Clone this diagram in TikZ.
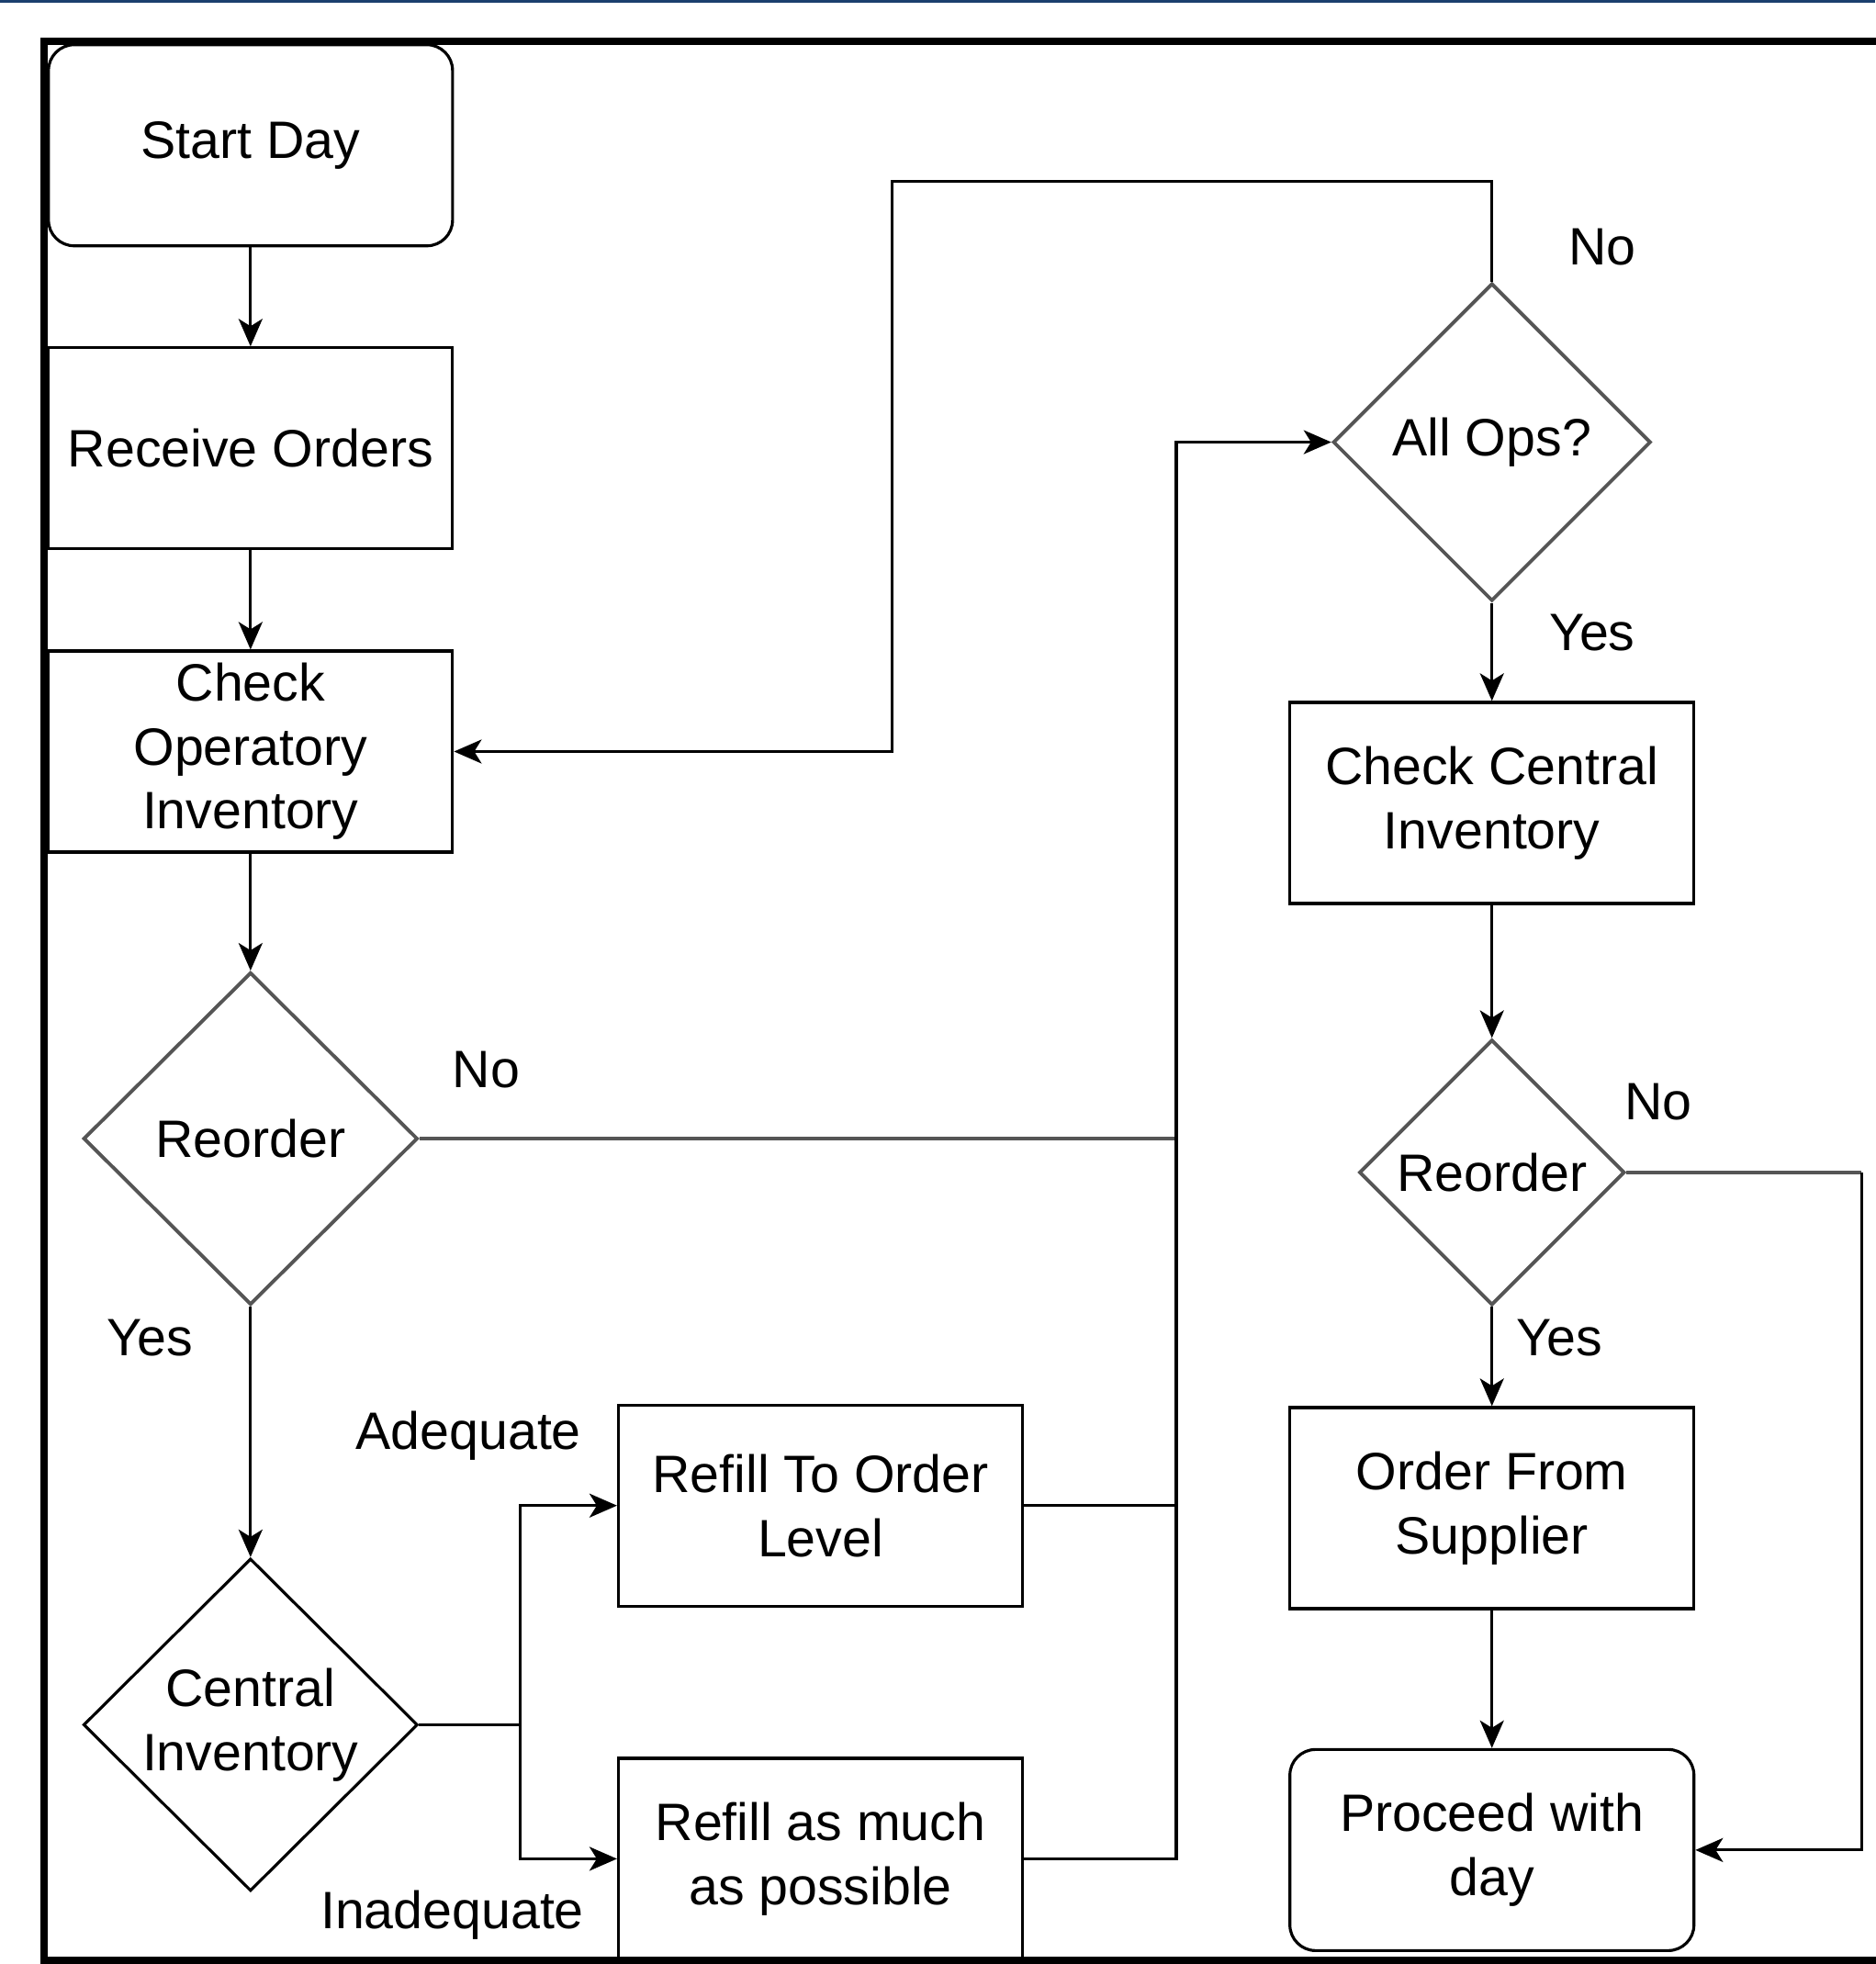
\documentclass[tikz,border=0pt]{standalone}
\usepackage{fontspec}
\setmainfont{Liberation Sans}
\usetikzlibrary{shapes.geometric,arrows.meta}
\definecolor{topnavy}{HTML}{1B3F6E}
\definecolor{edgegray}{HTML}{555555}
\begin{document}
\begin{tikzpicture}[x=0.013641cm, y=-0.013641cm,
  every node/.style={font=\fontsize{16.3}{19.8}\selectfont, align=center},
  procbox/.style={draw, line width=0.9pt, minimum width=4.4cm, minimum height=2.19cm, inner sep=0pt},
  termbox/.style={procbox, rounded corners=0.28cm},
  decision/.style={draw=edgegray, line width=1.1pt, diamond, aspect=1, inner sep=0pt},
  flow/.style={line width=0.9pt, -{Stealth[length=0.3cm,width=0.26cm,inset=0.08cm]}},
  link/.style={line width=0.9pt},
  graylink/.style={draw=edgegray, line width=1.3pt}]
\useasboundingbox (0,0) rectangle (1497,1568);
% frame
\fill[topnavy] (0,0) rectangle (1497,2);
\draw[line width=2.3pt] (1510,33) -- (35.5,33) -- (35.5,1565) -- (1510,1565);

% left column
\node[termbox] (start) at (200,116) {Start Day};
\node[procbox] (recv) at (200,358) {Receive Orders};
\node[procbox] (chkop) at (200,600) {Check\\Operatory\\Inventory};
\node[decision, minimum width=3.64cm, minimum height=3.62cm] (reo1) at (200,909) {Reorder};
\node[decision, draw=black, line width=0.9pt, minimum width=3.64cm, minimum height=3.62cm] (cinv) at (200,1377) {Central\\Inventory};

% middle column
\node[procbox] (refill) at (655,1202) {Refill To Order\\Level};
\node[procbox] (refmax) at (655,1484) {Refill as much\\as possible};

% right column
\node[decision, minimum width=3.46cm, minimum height=3.46cm] (allops) at (1191,353) {All Ops?};
\node[procbox] (cci) at (1191,641) {Check Central\\Inventory};
\node[decision, minimum width=2.89cm, minimum height=2.89cm] (reo2) at (1191,936) {Reorder};
\node[procbox] (ofs) at (1191,1204) {Order From\\Supplier};
\node[termbox] (proc) at (1191,1477) {Proceed with\\day};

% labels
\node (no1) at (388,854) {No};
\node (yes1) at (120,1068) {Yes};
\node (adeq) at (374,1146) {Adequate};
\node (inadeq) at (361,1529) {Inadequate};
\node (no2) at (1279,197) {No};
\node (yes2) at (1271,505) {Yes};
\node (no3) at (1324,880) {No};
\node (yes3) at (1245,1068) {Yes};

\coordinate (split) at (415,1377);
\coordinate (bus) at (939,0);
\coordinate (loop) at (712,145);
\coordinate (rbus) at (1486,936);

\draw[flow] (start) -- (recv);
\draw[flow] (recv) -- (chkop);
\draw[flow] (chkop) -- (reo1);
\draw[flow] (reo1) -- (cinv);
\draw[link] (cinv.east) -- (split);
\draw[flow] (split) |- (refill.west);
\draw[flow] (split) |- (refmax.west);
\draw[graylink] (reo1.east) -- (reo1.east -| bus);
\draw[link] (refill.east) -- (refill.east -| bus);
\draw[flow] (refmax.east) -- (refmax.east -| bus) |- (allops.west);
\draw[flow] (allops.north) |- (loop) |- (chkop.east);
\draw[flow] (allops) -- (cci);
\draw[flow] (cci) -- (reo2);
\draw[flow] (reo2) -- (ofs);
\draw[flow] (ofs) -- (proc);
\draw[graylink] (reo2.east) -- (rbus);
\draw[flow] (rbus) |- (proc.east);
\end{tikzpicture}
\end{document}
